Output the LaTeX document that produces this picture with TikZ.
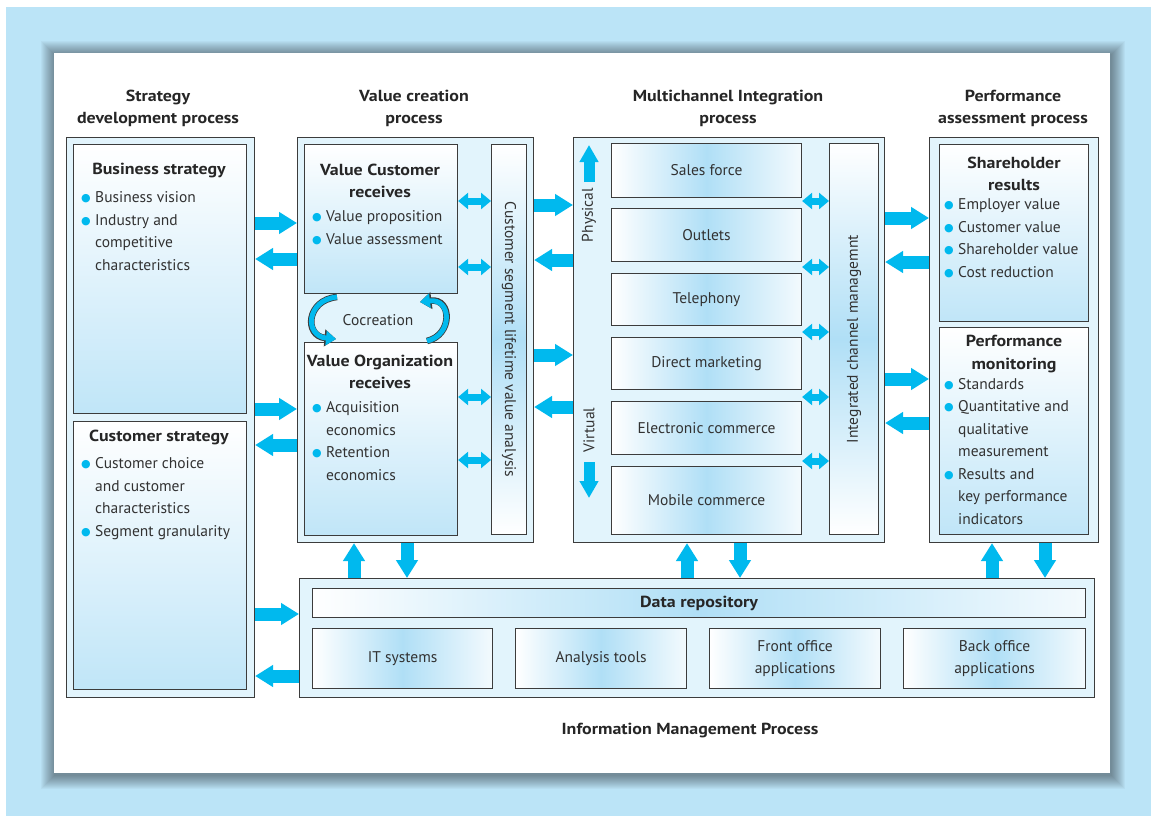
\documentclass[tikz,border=0pt]{standalone}
\usepackage{fontspec}
\setmainfont{PT Sans}[BoldFeatures={FakeStretch=1.12}]
\newfontfamily\symfont{DejaVu Sans}
\usetikzlibrary{positioning,arrows.meta}
\definecolor{skyback}{RGB}{187,228,247}
\definecolor{arrowblue}{RGB}{0,185,238}
\definecolor{boxline}{RGB}{60,60,60}
\definecolor{panelfill}{RGB}{226,244,252}
\definecolor{shadeblue}{RGB}{176,223,246}
\definecolor{textgray}{RGB}{50,50,50}
\newcommand\bul{\makebox[14pt][l]{\raisebox{1pt}{\textcolor{arrowblue}{\symfont\fontsize{11}{11}\selectfont ●}}}}
\newcommand\ind{\hspace*{14pt}}
\tikzset{
  outerbox/.style={draw=boxline, line width=1.1pt, fill=panelfill, anchor=north west, inner sep=0pt},
  downshade/.style={draw=boxline, line width=1.1pt, top color=white, bottom color=shadeblue!80!white, anchor=north west, inner sep=0pt},
  sideshade/.style={draw=boxline, line width=1.1pt, left color=white, right color=white!85!shadeblue, middle color=shadeblue, anchor=north west, inner sep=0pt, font=\fontsize{15.5}{22.5}\selectfont, text=textgray, align=center},
  barshade/.style={draw=boxline, line width=1.1pt, top color=white, bottom color=white, middle color=shadeblue, anchor=north west, inner sep=0pt},
  head/.style={font=\fontsize{16}{22.5}\selectfont\bfseries, text=black!85, align=center, inner sep=0pt},
  txt/.style={font=\fontsize{15.5}{22.5}\selectfont, text=textgray, align=left, inner sep=0pt},
  fatarrow/.style={line width=13pt, arrowblue, -{Triangle[width=21pt,length=18pt]}},
  dblarrow/.style={line width=7pt, arrowblue, {Triangle[width=16pt,length=10pt]}-{Triangle[width=16pt,length=10pt]}},
  chanarrow/.style={line width=11pt, arrowblue, -{Triangle[width=18pt,length=17pt]}},
  cocarrow/.style={line width=5pt, arrowblue, -{Triangle[width=14pt,length=10pt]},
    preaction={draw=boxline, line width=6.6pt, -{Triangle[width=16.5pt,length=11.5pt]}}}
}
\begin{document}
\begin{tikzpicture}[x=1pt,y=-1pt]
\useasboundingbox (0,0) rectangle (1151,816);
\fill[white] (0,0) rectangle (1151,816);
\fill[skyback] (6,7) rectangle (1151,816);
\foreach \s in {1,...,14}
  \fill[black,opacity=0.03] (55-\s,55-\s) rectangle (1111+\s,775+\s);
\fill[white] (54,53) rectangle (1110,773);

\node[head] (hstrat) at (158,108.5) {Strategy\\development process};
\node[head] (hvalue) at (414,108.5) {Value creation\\process};
\node[head] (hmulti) at (728,108.5) {Multichannel Integration\\process};
\node[head] (hperf) at (1013,108.5) {Performance\\assessment process};

\node[outerbox, minimum width=188pt, minimum height=560pt] (strat) at (66,137) {};
\node[downshade, minimum width=173pt, minimum height=269pt] (bs) at (73,144) {};
\node[downshade, minimum width=173pt, minimum height=268pt] (cs) at (73,421) {};
\node[head] (bshead) at (159,171) {Business strategy};
\node[txt, anchor=base west] (bslist) at (81,270) {\bul Business vision\\\bul Industry and\\\ind competitive\\\ind characteristics};
\node[head] (cshead) at (159,437) {Customer strategy};
\node[txt, anchor=base west] (cslist) at (81,536) {\bul Customer choice\\\ind and customer\\\ind characteristics\\\bul Segment granularity};

\node[outerbox, minimum width=236pt, minimum height=405pt] (value) at (297,137) {};
\node[downshade, minimum width=153pt, minimum height=149pt] (vc) at (304,144) {};
\node[downshade, minimum width=153pt, minimum height=193pt] (vo) at (304,342) {};
\node[barshade, minimum width=35pt, minimum height=390pt] (seg) at (491,144) {};
\node[head] (vchead) at (380,181) {Value Customer\\receives};
\node[txt, anchor=base west] (vclist) at (312,244) {\bul Value proposition\\\bul Value assessment};
\node[head] (vohead) at (380,372) {Value Organization\\receives};
\node[txt, anchor=base west] (volist) at (312,480) {\bul Acquisition\\\ind economics\\\bul Retention\\\ind economics};
\node[txt, rotate=-90] (segtext) at (seg.center) {Customer segment lifetime value analysis};
\node[txt] (cocreation) at (378,320) {Cocreation};
\draw[cocarrow] (337,297) .. controls (306,300) and (304,336) .. (336,339);
\draw[cocarrow] (427,341) .. controls (453,335) and (452,298) .. (420,302);

\node[outerbox, minimum width=311pt, minimum height=405pt] (multi) at (573,137) {};
\node[sideshade, minimum width=190pt, minimum height=54pt] (sf) at (611,143) {Sales force};
\node[sideshade, minimum width=190pt, minimum height=53pt] (ou) at (611,208) {Outlets};
\node[sideshade, minimum width=190pt, minimum height=52pt] (te) at (611,273) {Telephony};
\node[sideshade, minimum width=190pt, minimum height=52pt] (dm) at (611,337) {Direct marketing};
\node[sideshade, minimum width=190pt, minimum height=53pt] (ec) at (611,401) {Electronic commerce};
\node[sideshade, minimum width=190pt, minimum height=68pt] (mc) at (611,466) {Mobile commerce};
\node[barshade, minimum width=49pt, minimum height=391pt] (icm) at (829,143) {};
\node[txt, rotate=90] (icmtext) at (icm.center) {Integrated channel managemnt};
\node[txt, rotate=90] (physical) at (589,215) {Physical};
\node[txt, rotate=90] (virtual) at (589,430) {Virtual};
\coordinate (phys1) at (589,182);
\coordinate (phys2) at (589,145);
\coordinate (virt1) at (589,462);
\coordinate (virt2) at (589,498);
\draw[chanarrow] (phys1) -- (phys2);
\draw[chanarrow] (virt1) -- (virt2);

\node[outerbox, minimum width=169pt, minimum height=405pt] (perf) at (929,137) {};
\node[downshade, minimum width=149pt, minimum height=177pt] (sr) at (939,144) {};
\node[downshade, minimum width=149pt, minimum height=207pt] (pm) at (939,327) {};
\node[head] (srhead) at (1014,174) {Shareholder\\results};
\node[txt, anchor=base west] (srlist) at (944,277) {\bul Employer value\\\bul Customer value\\\bul Shareholder value\\\bul Cost reduction};
\node[head] (pmhead) at (1014,354) {Performance\\monitoring};
\node[txt, anchor=base west] (pmlist) at (944,524) {\bul Standards\\\bul Quantitative and\\\ind qualitative\\\ind measurement\\\bul Results and\\\ind key performance\\\ind indicators};

\node[outerbox, minimum width=795pt, minimum height=119pt] (info) at (299,578) {};
\node[sideshade, minimum width=773pt, minimum height=29pt, font=\fontsize{16}{22.5}\selectfont\bfseries, text=black!85] (dr) at (312,588) {Data repository};
\node[sideshade, minimum width=180pt, minimum height=60pt] (it) at (312,628) {IT systems};
\node[sideshade, minimum width=171pt, minimum height=60pt] (at) at (515,628) {Analysis tools};
\node[sideshade, minimum width=171pt, minimum height=60pt] (fo) at (709,628) {Front office\\applications};
\node[sideshade, minimum width=182pt, minimum height=60pt] (bo) at (903,628) {Back office\\applications};
\node[head] (hinfo) at (690,730) {Information Management Process};

\draw[fatarrow] (strat.east |- 0,223) -- (value.west |- 0,223);
\draw[fatarrow] (value.west |- 0,259) -- (strat.east |- 0,259);
\draw[fatarrow] (strat.east |- 0,409) -- (value.west |- 0,409);
\draw[fatarrow] (value.west |- 0,445) -- (strat.east |- 0,445);
\draw[fatarrow] (value.east |- 0,205) -- (multi.west |- 0,205);
\draw[fatarrow] (multi.west |- 0,260) -- (value.east |- 0,260);
\draw[fatarrow] (value.east |- 0,355) -- (multi.west |- 0,355);
\draw[fatarrow] (multi.west |- 0,407) -- (value.east |- 0,407);
\draw[fatarrow] (multi.east |- 0,218) -- (perf.west |- 0,218);
\draw[fatarrow] (perf.west |- 0,262) -- (multi.east |- 0,262);
\draw[fatarrow] (multi.east |- 0,379) -- (perf.west |- 0,379);
\draw[fatarrow] (perf.west |- 0,423) -- (multi.east |- 0,423);
\draw[fatarrow] (strat.east |- 0,614) -- (info.west |- 0,614);
\draw[fatarrow] (info.west |- 0,676) -- (strat.east |- 0,676);
\draw[fatarrow] (info.north -| 354,0) -- (value.south -| 354,0);
\draw[fatarrow] (value.south -| 407,0) -- (info.north -| 407,0);
\draw[fatarrow] (info.north -| 687,0) -- (multi.south -| 687,0);
\draw[fatarrow] (multi.south -| 740,0) -- (info.north -| 740,0);
\draw[fatarrow] (info.north -| 992,0) -- (perf.south -| 992,0);
\draw[fatarrow] (perf.south -| 1045,0) -- (info.north -| 1045,0);

\draw[dblarrow] (vc.east |- 0,201) -- (seg.west |- 0,201);
\draw[dblarrow] (vc.east |- 0,267) -- (seg.west |- 0,267);
\draw[dblarrow] (vo.east |- 0,397) -- (seg.west |- 0,397);
\draw[dblarrow] (vo.east |- 0,460) -- (seg.west |- 0,460);
\draw[dblarrow] (sf.east |- 0,201) -- (icm.west |- 0,201);
\draw[dblarrow] (ou.east |- 0,267) -- (icm.west |- 0,267);
\draw[dblarrow] (te.east |- 0,332) -- (icm.west |- 0,332);
\draw[dblarrow] (dm.east |- 0,397) -- (icm.west |- 0,397);
\draw[dblarrow] (ec.east |- 0,461) -- (icm.west |- 0,461);
\end{tikzpicture}
\end{document}
